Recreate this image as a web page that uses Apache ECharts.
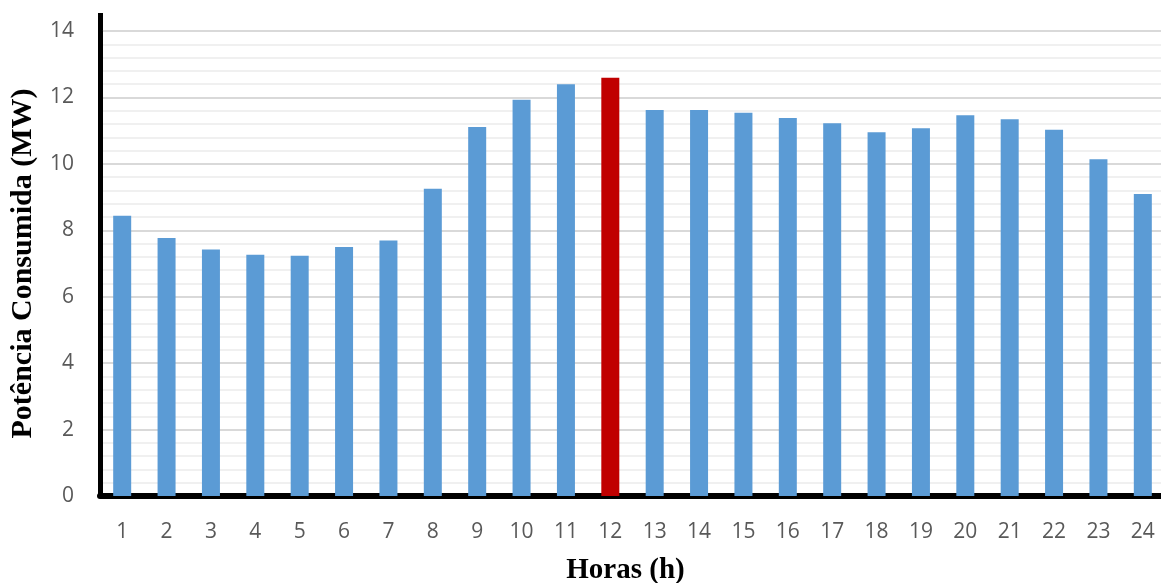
<!DOCTYPE html>
<html>
<head>
<meta charset="utf-8">
<script src="https://cdn.jsdelivr.net/npm/echarts@6/dist/echarts.min.js"></script>
<style>
html,body{margin:0;padding:0;background:#fff;}
#c{width:1161px;height:583px;}
</style>
</head>
<body>
<div id="c"></div>
<script>
const hours = ['1','2','3','4','5','6','7','8','9','10','11','12','13','14','15','16','17','18','19','20','21','22','23','24'];
const power = [8.44, 7.77, 7.42, 7.26, 7.23, 7.50, 7.69, 9.25, 11.11, 11.93, 12.40, 12.59, 11.62, 11.62, 11.54, 11.38, 11.22, 10.95, 11.07, 11.46, 11.34, 11.03, 10.14, 9.09];
const peakHour = '12';
const yTicks = [0, 2, 4, 6, 8, 10, 12, 14];

const chart = echarts.init(document.getElementById('c'));
const labelFont = { fontFamily: 'Open Sans', fontSize: 21, color: '#595959' };
chart.setOption({
  animation: false,
  grid: { left: 100, top: 31, width: 1065, height: 465, containLabel: false, outerBoundsMode: 'none' },
  xAxis: {
    type: 'category',
    data: hours,
    name: 'Horas (h)',
    nameLocation: 'middle',
    nameGap: 60,
    nameTextStyle: { fontFamily: 'Liberation Serif', fontWeight: 'bold', fontSize: 29, color: '#000', padding: [0, 14, 0, 0] },
    axisLine: { show: true, lineStyle: { color: '#000', width: 6 } },
    axisTick: { show: false },
    axisLabel: Object.assign({ margin: 26 }, labelFont),
    splitLine: { show: false }
  },
  yAxis: {
    type: 'value',
    min: yTicks[0],
    max: yTicks[yTicks.length - 1],
    interval: yTicks[1] - yTicks[0],
    name: 'Potência Consumida (MW)',
    nameLocation: 'middle',
    nameGap: 62,
    nameTextStyle: { fontFamily: 'Liberation Serif', fontWeight: 'bold', fontSize: 30, color: '#000' },
    axisLine: { show: true, lineStyle: { color: '#000', width: 5 } },
    axisTick: { show: false },
    axisLabel: Object.assign({ margin: 26 }, labelFont),
    splitLine: { show: true, lineStyle: { color: '#d9d9d9', width: 2 } },
    minorTick: { show: false, splitNumber: 5 },
    minorSplitLine: { show: true, lineStyle: { color: '#f0f0f0', width: 2 } }
  },
  graphic: [{
    type: 'line',
    shape: { x1: 100.5, y1: 13, x2: 100.5, y2: 33 },
    style: { stroke: '#000', lineWidth: 5 }
  }],
  series: [{
    type: 'bar',
    barWidth: 18,
    data: power.map((v, i) => ({
      value: v,
      itemStyle: { color: hours[i] === peakHour ? '#c00000' : '#5b9bd5' }
    }))
  }]
});
</script>
</body>
</html>
